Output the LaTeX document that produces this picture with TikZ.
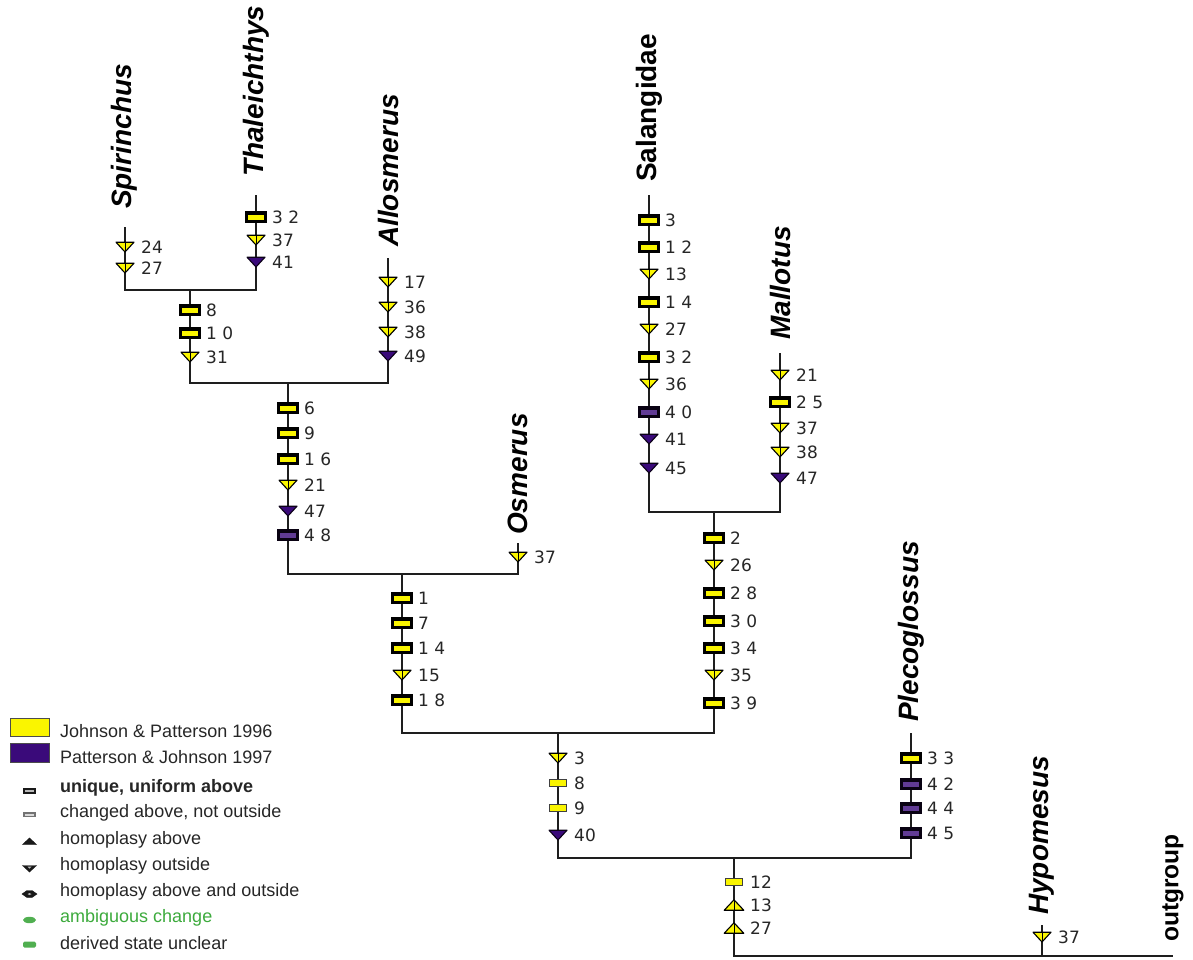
\documentclass[tikz,border=0pt]{standalone}
\usepackage{fontspec}
\setmainfont{Liberation Sans}
\newfontfamily\numfont{DejaVu Sans}
\definecolor{myyellow}{RGB}{250,245,0}
\definecolor{mypurple}{RGB}{58,10,122}
\definecolor{treeline}{RGB}{30,30,30}
\definecolor{mygreen}{RGB}{80,175,80}
\definecolor{txtgreen}{RGB}{60,170,60}
\tikzset{
 tree/.style={draw=treeline, line width=1.8pt},
 taxon/.style={rotate=90, anchor=west, inner sep=0pt, font=\fontsize{28}{30}\selectfont\bfseries\itshape},
 taxonup/.style={rotate=90, anchor=west, inner sep=0pt, font=\fontsize{28}{30}\selectfont\bfseries},
 numlbl/.style={anchor=west, inner sep=0pt, font=\numfont\fontsize{17}{19}\selectfont, text=black!85},
 legtext/.style={anchor=west, inner sep=0pt, font=\fontsize{18}{20}\selectfont, text=black!85},
 pics/uy/.style={code={\filldraw[draw=black, line width=3.4pt, fill=myyellow] (-9.5,-4.2) rectangle (9.5,4.2);}},
 pics/up/.style={code={\filldraw[draw=black!85!mypurple, line width=3.4pt, fill=mypurple!80!white] (-9.5,-4.2) rectangle (9.5,4.2);}},
 pics/cy/.style={code={\filldraw[draw=black!75, line width=1pt, fill=myyellow] (-8.2,-3.3) rectangle (8.2,3.3);}},
 pics/dy/.style={code={\filldraw[draw=black, line width=1.1pt, fill=myyellow, line join=round] (-9,-4.8) -- (9,-4.8) -- (0,5) -- cycle; \draw[black, line width=0.8pt] (0,-4.8) -- (0,5);}},
 pics/dp/.style={code={\filldraw[draw=black!80!mypurple, line width=1.1pt, fill=mypurple, line join=round] (-9,-4.8) -- (9,-4.8) -- (0,5) -- cycle;}},
 pics/ay/.style={code={\filldraw[draw=black, line width=1.1pt, fill=myyellow, line join=round] (-9.8,5.2) -- (9.8,5.2) -- (0,-5.2) -- cycle; \draw[black, line width=0.8pt] (0,-5.2) -- (0,5.2);}},
}
\begin{document}
\begin{tikzpicture}[x=1pt, y=-1pt]
\useasboundingbox (0,0) rectangle (1193,959);
% tree junctions and tips
\coordinate (spiT) at (125,227);
\coordinate (thaT) at (256,195);
\coordinate (nA) at (190,290);
\coordinate (allT) at (388,258);
\coordinate (nB) at (288,383);
\coordinate (osmT) at (518,543);
\coordinate (nC) at (402,574);
\coordinate (salT) at (649,195);
\coordinate (malT) at (780,353);
\coordinate (nD) at (714,512);
\coordinate (nE) at (558,733);
\coordinate (pleT) at (911,733);
\coordinate (nF) at (734,858);
\coordinate (hypT) at (1042,925);
\coordinate (outE) at (1173,956);
% tree lines
\draw[tree] (spiT) |- (nA) -| (thaT);
\draw[tree] (nA) |- (nB) -| (allT);
\draw[tree] (nB) |- (nC) -| (osmT);
\draw[tree] (salT) |- (nD) -| (malT);
\draw[tree] (nC) |- (nE) -| (nD);
\draw[tree] (nE) |- (nF) -| (pleT);
\draw[tree] (nF) |- (outE);
\draw[tree] (hypT) -- (hypT |- outE);
% taxon labels
\node[taxon] (tSpi) at (124,209) {Spirinchus};
\node[taxon] (tTha) at (256,177) {Thaleichthys};
\node[taxon] (tAll) at (388,247) {Allosmerus};
\node[taxon] (tOsm) at (518,535) {Osmerus};
\node[taxonup] (tSal) at (649,182) {Salangidae};
\node[taxon] (tMal) at (780,340) {Mallotus};
\node[taxon] (tPle) at (911,722) {Plecoglossus};
\node[taxon] (tHyp) at (1042,915) {Hypomesus};
\node[taxonup, font=\fontsize{24.5}{26}\selectfont\bfseries] (tOut) at (1173,942) {outgroup};
% character markers
\foreach \y/\t/\l in {247/dy/24,268/dy/27}{\pic at (125,\y) {\t}; \node[numlbl] (a\y) at (141,\y) {\l};}
\foreach \y/\t/\l in {217/uy/3 2,240/dy/37,262/dp/41}{\pic at (256,\y) {\t}; \node[numlbl] (b\y) at (272,\y) {\l};}
\foreach \y/\t/\l in {310/uy/8,333/uy/1 0,357/dy/31}{\pic at (190,\y) {\t}; \node[numlbl] (c\y) at (206,\y) {\l};}
\foreach \y/\t/\l in {282/dy/17,307/dy/36,332/dy/38,356/dp/49}{\pic at (388,\y) {\t}; \node[numlbl] (d\y) at (404,\y) {\l};}
\foreach \y/\t/\l in {408/uy/6,433/uy/9,459/uy/1 6,485/dy/21,511/dp/47,535/up/4 8}{\pic at (288,\y) {\t}; \node[numlbl] (e\y) at (304,\y) {\l};}
\foreach \y/\t/\l in {557/dy/37}{\pic at (518,\y) {\t}; \node[numlbl] (f\y) at (534,\y) {\l};}
\foreach \y/\t/\l in {598/uy/1,623/uy/7,648/uy/1 4,675/dy/15,700/uy/1 8}{\pic at (402,\y) {\t}; \node[numlbl] (g\y) at (418,\y) {\l};}
\foreach \y/\t/\l in {220/uy/3,247/uy/1 2,274/dy/13,302/uy/1 4,329/dy/27,357/uy/3 2,384/dy/36,412/up/4 0,439/dp/41,468/dp/45}{\pic at (649,\y) {\t}; \node[numlbl] (h\y) at (665,\y) {\l};}
\foreach \y/\t/\l in {375/dy/21,402/uy/2 5,428/dy/37,452/dy/38,478/dp/47}{\pic at (780,\y) {\t}; \node[numlbl] (i\y) at (796,\y) {\l};}
\foreach \y/\t/\l in {538/uy/2,565/dy/26,593/uy/2 8,621/uy/3 0,648/uy/3 4,675/dy/35,703/uy/3 9}{\pic at (714,\y) {\t}; \node[numlbl] (j\y) at (730,\y) {\l};}
\foreach \y/\t/\l in {758/dy/3,783/cy/8,808/cy/9,835/dp/40}{\pic at (558,\y) {\t}; \node[numlbl] (k\y) at (574,\y) {\l};}
\foreach \y/\t/\l in {758/uy/3 3,784/up/4 2,808/up/4 4,833/up/4 5}{\pic at (911,\y) {\t}; \node[numlbl] (l\y) at (927,\y) {\l};}
\foreach \y/\t/\l in {882/cy/12,905/ay/13,928/ay/27}{\pic at (734,\y) {\t}; \node[numlbl] (m\y) at (750,\y) {\l};}
\foreach \y/\t/\l in {937/dy/37}{\pic at (1042,\y) {\t}; \node[numlbl] (n\y) at (1058,\y) {\l};}
% legend
\filldraw[draw=black!70, line width=0.8pt, fill=myyellow] (10,718) rectangle (49,736);
\filldraw[draw=black!70, line width=0.8pt, fill=mypurple] (10,743) rectangle (49,762);
\node[legtext] (lg1) at (60,731) {Johnson \& Patterson 1996};
\node[legtext] (lg2) at (60,757) {Patterson \& Johnson 1997};
\filldraw[draw=black!90, line width=2pt, fill=gray!55] (24,788.5) rectangle (35,792.5);
\filldraw[draw=black!55, line width=1.6pt, fill=gray!30] (24,813) rectangle (35,816.5);
\filldraw[black!90] (22.5,844.5) -- (36.5,844.5) -- (29.5,838) -- cycle;
\filldraw[black!90] (22.5,865.5) -- (36.5,865.5) -- (29.5,872) -- cycle;
\fill[gray!50] (27.5,866.5) -- (31.5,866.5) -- (29.5,868.5) -- cycle;
\filldraw[black!90] (22,894) -- (27,890.5) -- (32,890.5) -- (37,894) -- (32,897.5) -- (27,897.5) -- cycle;
\fill[white!70!black] (27.5,894) -- (29.5,893) -- (31.5,894) -- (29.5,895) -- cycle;
\fill[mygreen] (29.5,920) ellipse [x radius=6.5, y radius=3.2];
\fill[mygreen, rounded corners=1.5pt] (23,941.5) rectangle (36,947.5);
\node[legtext, font=\fontsize{18}{20}\selectfont\bfseries] (lg3) at (60,788) {unique, uniform above};
\node[legtext] (lg4) at (60,813) {changed above, not outside};
\node[legtext] (lg5) at (60,840) {homoplasy above};
\node[legtext] (lg6) at (60,866) {homoplasy outside};
\node[legtext] (lg7) at (60,892) {homoplasy above and outside};
\node[legtext, text=txtgreen] (lg8) at (60,918) {ambiguous change};
\node[legtext] (lg9) at (60,943) {derived state unclear};
\end{tikzpicture}
\end{document}
